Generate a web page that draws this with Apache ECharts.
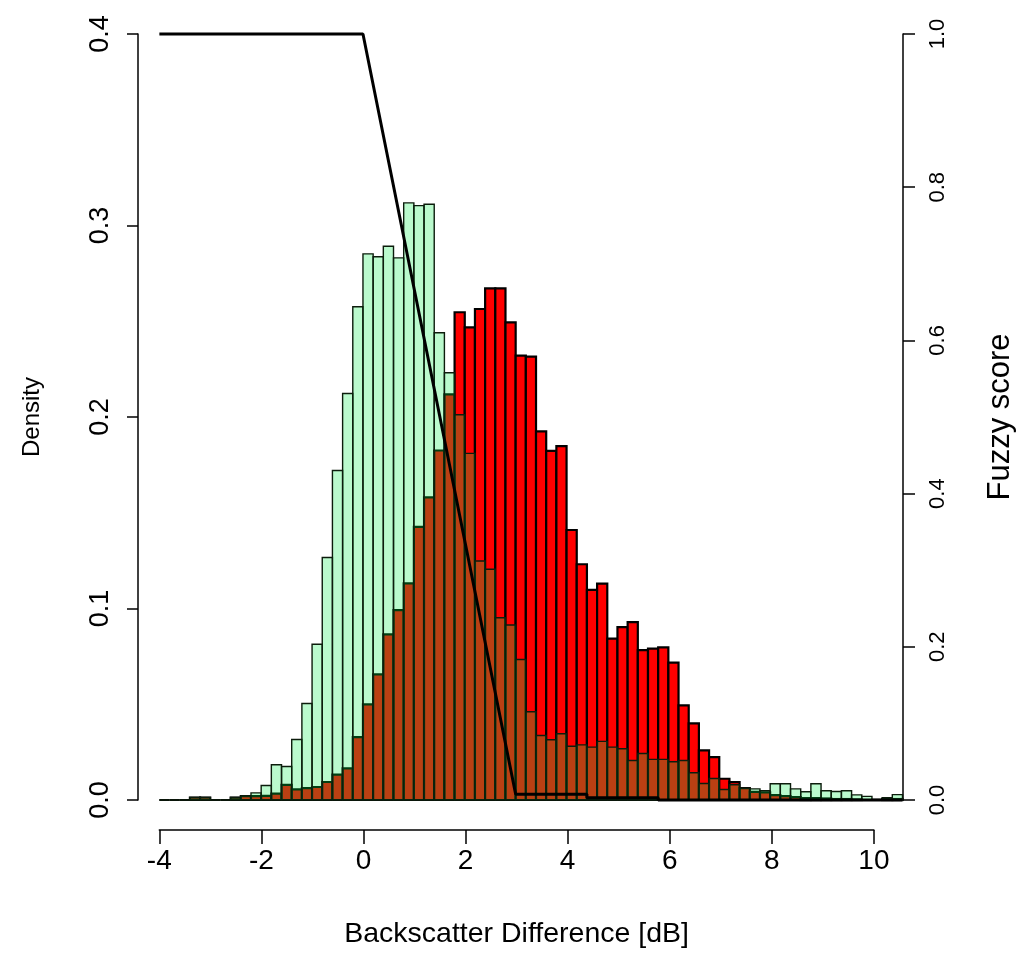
<!DOCTYPE html>
<html>
<head>
<meta charset="utf-8">
<script src="https://cdn.jsdelivr.net/npm/echarts@6/dist/echarts.min.js"></script>
<style>html,body{margin:0;padding:0;background:#fff}#c{width:1024px;height:958px}</style>
</head>
<body>
<div id="c"></div>
<script>
// Histogram bin left edges (dB), bin width 0.2
const binLeft = [
  -4.0,-3.8,-3.6,-3.4,-3.2,-3.0,-2.8,-2.6,-2.4,-2.2,
  -2.0,-1.8,-1.6,-1.4,-1.2,-1.0,-0.8,-0.6,-0.4,-0.2,
   0.0, 0.2, 0.4, 0.6, 0.8, 1.0, 1.2, 1.4, 1.6, 1.8,
   2.0, 2.2, 2.4, 2.6, 2.8, 3.0, 3.2, 3.4, 3.6, 3.8,
   4.0, 4.2, 4.4, 4.6, 4.8, 5.0, 5.2, 5.4, 5.6, 5.8,
   6.0, 6.2, 6.4, 6.6, 6.8, 7.0, 7.2, 7.4, 7.6, 7.8,
   8.0, 8.2, 8.4, 8.6, 8.8, 9.0, 9.2, 9.4, 9.6, 9.8,
  10.0,10.2,10.4
];
const binWidth = 0.2;

// Green (light) histogram densities
const greenDensity = [
  0, 0, 0, 0.0013, 0.0013, 0, 0, 0.0013, 0.0022, 0.0037,
  0.0076, 0.0184, 0.0175, 0.0316, 0.0504, 0.0813, 0.1266, 0.1721, 0.2123, 0.2576,
  0.2852, 0.2837, 0.2892, 0.2831, 0.3118, 0.3104, 0.3111, 0.2440, 0.2231, 0.2012,
  0.1810, 0.1248, 0.1205, 0.0952, 0.0914, 0.0734, 0.0461, 0.0337, 0.0315, 0.0346,
  0.0281, 0.0288, 0.0276, 0.0306, 0.0276, 0.0268, 0.0206, 0.0243, 0.0212, 0.0212,
  0.0200, 0.0206, 0.0142, 0.0086, 0.0112, 0.0055, 0.0080, 0.0062, 0.0058, 0.0048,
  0.0085, 0.0085, 0.0058, 0.0043, 0.0085, 0.0048, 0.0044, 0.0048, 0.0027, 0.0019,
  0.0003, 0.0012, 0.0028
];

// Red histogram densities
const redDensity = [
  0, 0, 0, 0.0013, 0.0013, 0, 0, 0.0012, 0.0020, 0.0020,
  0.0022, 0.0033, 0.0079, 0.0056, 0.0062, 0.0068, 0.0094, 0.0133, 0.0165, 0.0328,
  0.0499, 0.0656, 0.0865, 0.0991, 0.1131, 0.1426, 0.1580, 0.1825, 0.2118, 0.2547,
  0.2468, 0.2564, 0.2672, 0.2672, 0.2494, 0.2320, 0.2315, 0.1925, 0.1823, 0.1848,
  0.1410, 0.1231, 0.1097, 0.1130, 0.0843, 0.0903, 0.0929, 0.0783, 0.0790, 0.0797,
  0.0717, 0.0494, 0.0400, 0.0259, 0.0224, 0.0111, 0.0093, 0.0062, 0.0042, 0.0040,
  0.0025, 0.0020, 0.0015, 0.0010, 0.0010, 0.0008, 0.0005, 0.0005, 0.0003, 0,
  0, 0.0005, 0.0005
];

// Fuzzy membership line
const fuzzyX = [-4, 0, 3, 4.4, 4.4, 5.8, 5.8, 10.6];
const fuzzyY = [1, 1, 0.0075, 0.0075, 0.003, 0.003, 0, 0];

const FONT = '"Liberation Sans", Arial, sans-serif';

function barRenderer(fill, stroke, lw) {
  return function (params, api) {
    const x0 = api.value(0), x1 = api.value(1), h = api.value(2);
    const a = api.coord([x0, 0]);
    const b = api.coord([x1, h]);
    return {
      type: 'rect',
      shape: { x: a[0], y: b[1], width: b[0] - a[0], height: a[1] - b[1] },
      style: { fill: fill, stroke: stroke, lineWidth: lw }
    };
  };
}

const chart = echarts.init(document.getElementById('c'), null, { renderer: 'canvas' });
const fmt1 = v => v.toFixed(1);

const option = {
  animation: false,
  backgroundColor: '#ffffff',
  grid: [
    { left: 138, right: 119, top: 34, bottom: 158 },
    { left: 159.3, width: 714.6, top: 829, height: 1 }
  ],
  xAxis: [
    { gridIndex: 0, type: 'value', min: -4.42, max: 10.61, show: false },
    {
      gridIndex: 1, type: 'value', min: -4, max: 10, interval: 2, position: 'bottom',
      axisLine: { show: true, onZero: false, lineStyle: { color: '#000', width: 1.5 } },
      axisTick: { show: true, length: 14, lineStyle: { color: '#000', width: 1.5 } },
      axisLabel: { fontSize: 28, color: '#000', margin: 17, fontFamily: FONT },
      splitLine: { show: false },
      name: 'Backscatter Difference [dB]', nameLocation: 'middle', nameGap: 90,
      nameTextStyle: { fontSize: 28.5, color: '#000', fontFamily: FONT }
    }
  ],
  yAxis: [
    {
      gridIndex: 0, type: 'value', min: 0, max: 0.4, interval: 0.1, position: 'left',
      axisLine: { show: true, onZero: false, lineStyle: { color: '#000', width: 1.5 } },
      axisTick: { show: true, length: 11, lineStyle: { color: '#000', width: 1.5 } },
      axisLabel: { rotate: 90, fontSize: 27, color: '#000', margin: 24, fontFamily: FONT, formatter: fmt1 },
      splitLine: { show: false },
      name: 'Density', nameLocation: 'middle', nameGap: 94, nameRotate: 90,
      nameTextStyle: { fontSize: 24, color: '#000', fontFamily: FONT }
    },
    {
      gridIndex: 0, type: 'value', min: 0, max: 1, interval: 0.2, position: 'right',
      axisLine: { show: true, onZero: false, lineStyle: { color: '#000', width: 1.5 } },
      axisTick: { show: true, length: 12, lineStyle: { color: '#000', width: 1.5 } },
      axisLabel: { rotate: 90, fontSize: 22, color: '#000', margin: 24, fontFamily: FONT, formatter: fmt1 },
      splitLine: { show: false },
      name: 'Fuzzy score', nameLocation: 'middle', nameGap: 82, nameRotate: 90,
      nameTextStyle: { fontSize: 31, color: '#000', fontFamily: FONT }
    },
    { gridIndex: 1, type: 'value', show: false, min: 0, max: 1 }
  ],
  series: [
    {
      type: 'custom', name: 'red', xAxisIndex: 0, yAxisIndex: 0, z: 2,
      renderItem: barRenderer('#ff0000', '#000000', 2.2),
      encode: { x: [0, 1], y: 2 },
      data: binLeft.map((x, i) => [x, x + binWidth, redDensity[i]])
    },
    {
      type: 'custom', name: 'green', xAxisIndex: 0, yAxisIndex: 0, z: 3,
      renderItem: barRenderer('rgba(0,235,70,0.27)', '#0c1c0c', 1.4),
      encode: { x: [0, 1], y: 2 },
      data: binLeft.map((x, i) => [x, x + binWidth, greenDensity[i]])
    },
    {
      type: 'line', name: 'fuzzy', xAxisIndex: 0, yAxisIndex: 1, z: 5,
      showSymbol: false, symbol: 'none', clip: false,
      lineStyle: { color: '#000', width: 3 },
      data: fuzzyX.map((x, i) => [x, fuzzyY[i]])
    }
  ]
};
chart.setOption(option);
</script>
</body>
</html>
